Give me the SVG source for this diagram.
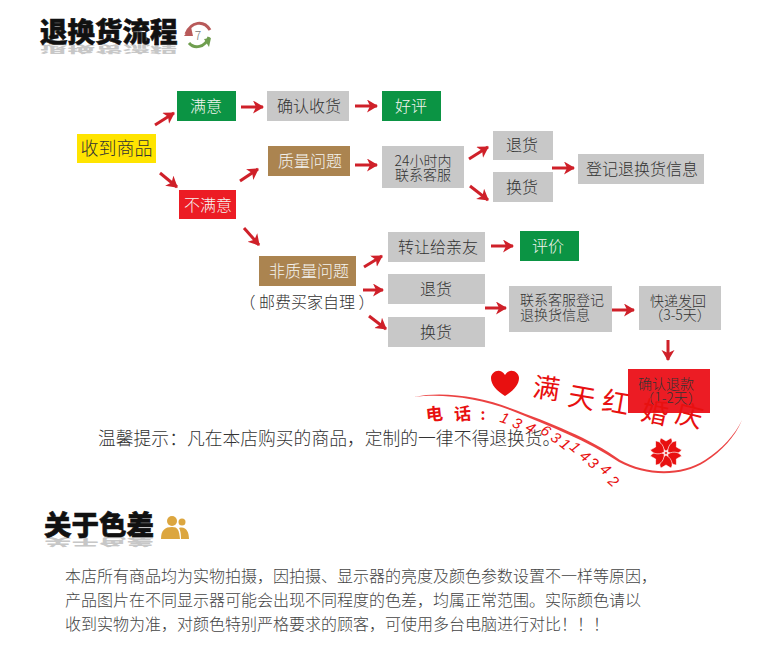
<svg xmlns="http://www.w3.org/2000/svg" width="762" height="662" viewBox="0 0 762 662">
<style>
text{font-family:"Noto Sans CJK SC","Liberation Sans",sans-serif;text-anchor:middle;font-weight:300}
.t{font-size:16px;fill:#333}
.s{font-size:14px;fill:#333}
.w{font-size:16px;fill:#f4f4f0}
.g{fill:#c8c8c8}.e{fill:#0b9444}.b{fill:#ab8450}.r{fill:#ec1c24}
.a{stroke:#cf2029;stroke-width:3;fill:none;marker-end:url(#h)}
text.h{font-size:27.5px;font-weight:900;fill:#111;stroke:#111;stroke-width:.6;text-anchor:start}
text.f{font-size:27.5px;font-weight:900;fill:#aaa;opacity:.65;text-anchor:start}
.m{font-size:27px;font-weight:400;fill:#e81010}
.d{font-size:17px;font-weight:700;fill:#e81010}
.n{font-size:15px;fill:#e81010;font-family:"Liberation Sans",sans-serif;font-style:italic}
text.p{font-size:16px;fill:#444;text-anchor:start}
</style>
<defs>
<marker id="h" markerWidth="14" markerHeight="14" refX="10" refY="6.500" orient="auto" markerUnits="userSpaceOnUse"><path d="M0 0L11 6.500L0 13L3 6.500Z" fill="#cf2029"/></marker>
</defs>
<rect width="762" height="662" fill="#fff"/>

<g id="title1">
<text class="f" transform="translate(40 45) scale(1 -.38)">退换货流程</text>
<text class="h" x="40" y="42">退换货流程</text>
<path d="M186 34C191 21 204 20 210 30" fill="none" stroke="#b85a5a" stroke-width="3"/><path d="M191 27l-7 9 9 0z" fill="#b85a5a"/>
<path d="M209 37C205 48 194 49 189 43" fill="none" stroke="#6f9e4f" stroke-width="3"/><path d="M204 39l7-1 -2 9z" fill="#6f9e4f"/>
<text x="198" y="40" style="font-size:12px;fill:#777">7</text>
</g>

<g id="connectors">
<path class="a" d="M155 125L174 113"/>
<path class="a" d="M160 173L177 187"/>
<path class="a" d="M241 107H263"/>
<path class="a" d="M355 106H377"/>
<path class="a" d="M240 181L258 169"/>
<path class="a" d="M355 165H377"/>
<path class="a" d="M469 159L488 147"/>
<path class="a" d="M470 186L488 200"/>
<path class="a" d="M552 168H574"/>
<path class="a" d="M244 228L259 245"/>
<path class="a" d="M364 267L382 256"/>
<path class="a" d="M363 290H383"/>
<path class="a" d="M369 316L386 329"/>
<path class="a" d="M485 308H506"/>
<path class="a" d="M491 246H513"/>
<path class="a" d="M612 310H634"/>
<path class="a" d="M668 340V360"/>
</g>

<g id="n-receive"><rect x="77" y="134" width="79" height="29" fill="#ffe400"/><text x="116.500" y="155" style="font-size:18px;fill:#333">收到商品</text></g>
<g id="n-ok"><rect class="e" x="177" y="91" width="59" height="30"/><text class="w" x="206" y="112">满意</text></g>
<g id="n-confirm"><rect class="g" x="267" y="91" width="82" height="30"/><text class="t" x="309" y="112">确认收货</text></g>
<g id="n-good"><rect class="e" x="382" y="91" width="59" height="30"/><text class="w" x="411" y="112">好评</text></g>
<g id="n-bad"><rect class="r" x="179" y="190" width="57" height="29"/><text class="w" x="208" y="211">不满意</text></g>
<g id="n-quality"><rect class="b" x="268" y="146" width="82" height="30"/><text class="w" x="310" y="167">质量问题</text></g>
<g id="n-service"><rect class="g" x="382" y="146" width="82" height="42"/><text class="s" x="423" y="166">24小时内</text><text class="s" x="423" y="180">联系客服</text></g>
<g id="n-ret1"><rect class="g" x="493" y="131" width="60" height="29"/><text class="t" x="522" y="151">退货</text></g>
<g id="n-exc1"><rect class="g" x="493" y="172" width="60" height="30"/><text class="t" x="522" y="193">换货</text></g>
<g id="n-record"><rect class="g" x="578" y="154" width="126" height="30"/><text class="t" x="642" y="175">登记退换货信息</text></g>
<g id="n-nonquality"><rect class="b" x="259" y="256" width="97" height="30"/><text class="w" x="309" y="277">非质量问题</text><text class="t" x="307" y="308">（ 邮费买家自理 ）</text></g>
<g id="n-gift"><rect class="g" x="388" y="232" width="97" height="30"/><text class="t" x="438" y="253">转让给亲友</text></g>
<g id="n-rate"><rect class="e" x="520" y="231" width="59" height="30"/><text class="w" x="548" y="252">评价</text></g>
<g id="n-ret2"><rect class="g" x="388" y="274" width="97" height="30"/><text class="t" x="436" y="295">退货</text></g>
<g id="n-exc2"><rect class="g" x="388" y="317" width="97" height="30"/><text class="t" x="436" y="338">换货</text></g>
<g id="n-contact"><rect class="g" x="509" y="286" width="103" height="46"/><text class="s" x="562" y="305">联系客服登记</text><text class="s" x="555" y="320">退换货信息</text></g>
<g id="n-ship"><rect class="g" x="639" y="286" width="82" height="44"/><text class="s" x="678" y="306">快递发回</text><text class="s" x="680" y="320">（3-5天）</text></g>
<g id="n-refund"><rect class="r" x="628" y="369" width="82" height="44"/><text class="s" x="666" y="389">确认退款</text><text class="s" x="671" y="403">（1-2天）</text></g>

<text x="98" y="445" style="text-anchor:start;font-size:17.800px;fill:#333">温馨提示：凡在本店购买的商品，定制的一律不得退换货。</text>

<g id="stamp">
<path d="M414 397C440 391 480 396 510 408C550 423 590 438 620 460C645 474 680 476 705 460C722 449 735 435 742 420C735 437 722 451 705 462C680 478 645 476 619 462C588 441 550 426 510 410C480 398 440 393 414 397Z" fill="#e82020" opacity=".85"/>
<path d="M505 396C497 391 491 385 491 378C491 372 500 367 505 375C510 367 519 372 519 378C519 385 513 391 505 396Z" fill="#e81010"/>
<text class="m" x="545" y="398" transform="rotate(8 545 398)">满</text>
<text class="m" x="580" y="407" transform="rotate(10 580 407)">天</text>
<text class="m" x="614" y="412" transform="rotate(10 614 412)">红</text>
<text class="m" x="653" y="422" transform="rotate(12 653 422)">婚</text>
<text class="m" x="687" y="425" transform="rotate(14 687 425)">庆</text>
<text class="d" x="435" y="420" transform="rotate(-6 435 420)">电</text>
<text class="d" x="463" y="420" transform="rotate(-4 463 420)">话</text>
<text class="d" x="483" y="420" style="font-size:15px">:</text>
<text class="n" x="503" y="423" transform="rotate(20 503 423)">1</text>
<text class="n" x="515" y="428" transform="rotate(25 515 428)">3</text>
<text class="n" x="528" y="432" transform="rotate(30 528 432)">4</text>
<text class="n" x="543" y="435" transform="rotate(33 543 435)">6</text>
<text class="n" x="553" y="442" transform="rotate(35 553 442)">3</text>
<text class="n" x="562" y="448" transform="rotate(38 562 448)">1</text>
<text class="n" x="572" y="451" transform="rotate(40 572 451)">1</text>
<text class="n" x="582" y="460" transform="rotate(40 582 460)">4</text>
<text class="n" x="590" y="467" transform="rotate(40 590 467)">3</text>
<text class="n" x="602" y="473" transform="rotate(42 602 473)">4</text>
<text class="n" x="610" y="485" transform="rotate(42 610 485)">2</text>
<g transform="translate(666 453)" fill="#e81010" stroke="#fff" stroke-width=".6"><g id="pt"><path d="M0-2C-7-6-7-13-5-15L0-12L5-15C7-13 7-6 0-2Z"/></g><use href="#pt" transform="rotate(60)"/><use href="#pt" transform="rotate(120)"/><use href="#pt" transform="rotate(180)"/><use href="#pt" transform="rotate(240)"/><use href="#pt" transform="rotate(300)"/><circle r="1.500"/></g>
</g>

<g id="title2">
<text class="f" transform="translate(44 538) scale(1 -.38)">关于色差</text>
<text class="h" x="44" y="535">关于色差</text>
<circle cx="172" cy="521" r="5" fill="#dca63f"/><circle cx="182" cy="522" r="3.500" fill="#dca63f"/>
<path d="M161 539C161 530 165 527 172 527C178 527 179 530 180 539Z" fill="#dca63f"/><path d="M181 539C181 532 180 530 179 528C186 526 189 532 189 539Z" fill="#dca63f"/>
</g>

<text class="p" x="65" y="582">本店所有商品均为实物拍摄，因拍摄、显示器的亮度及颜色参数设置不一样等原因，</text>
<text class="p" x="65" y="606">产品图片在不同显示器可能会出现不同程度的色差，均属正常范围。实际颜色请以</text>
<text class="p" x="65" y="630">收到实物为准，对颜色特别严格要求的顾客，可使用多台电脑进行对比！！！</text>
</svg>
